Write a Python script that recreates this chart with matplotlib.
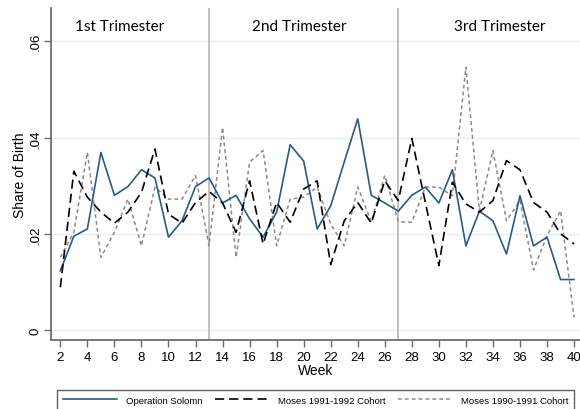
import matplotlib
matplotlib.use("Agg")
import matplotlib.pyplot as plt

weeks = list(range(2, 41))
solomon = [0.0123, 0.0195, 0.0210, 0.0369, 0.0280, 0.0298, 0.0333, 0.0316, 0.0193, 0.0227,
           0.0298, 0.0316, 0.0264, 0.0280, 0.0231, 0.0193, 0.0245, 0.0385, 0.0351, 0.0210,
           0.0258, 0.0349, 0.0439, 0.0280, 0.0264, 0.0247, 0.0280, 0.0297, 0.0264, 0.0333,
           0.0175, 0.0247, 0.0227, 0.0158, 0.0279, 0.0175, 0.0193, 0.0105, 0.0105]
moses_9192 = [0.0089, 0.0330, 0.0276, 0.0245, 0.0222, 0.0245, 0.0286, 0.0376, 0.0241, 0.0222,
              0.0265, 0.0288, 0.0264, 0.0203, 0.0310, 0.0179, 0.0265, 0.0224, 0.0293, 0.0310,
              0.0136, 0.0227, 0.0265, 0.0222, 0.0310, 0.0269, 0.0398, 0.0265, 0.0134, 0.0307,
              0.0262, 0.0245, 0.0269, 0.0352, 0.0333, 0.0265, 0.0245, 0.0200, 0.0179]
moses_9091 = [0.0151, 0.0203, 0.0369, 0.0151, 0.0203, 0.0272, 0.0175, 0.0297, 0.0272, 0.0272,
              0.0321, 0.0175, 0.0421, 0.0151, 0.0349, 0.0373, 0.0175, 0.0272, 0.0276, 0.0297,
              0.0220, 0.0175, 0.0297, 0.0225, 0.0321, 0.0225, 0.0224, 0.0297, 0.0297, 0.0279,
              0.0546, 0.0248, 0.0373, 0.0227, 0.0269, 0.0125, 0.0196, 0.0248, 0.0026]
series_labels = ["Operation Solomn", "Moses 1991-1992 Cohort", "Moses 1990-1991 Cohort"]
trimester_labels = ["1st Trimester", "2nd Trimester", "3rd Trimester"]
trimester_breaks = [13, 27]
yticks = [0, 0.02, 0.04, 0.06]
ytick_labels = ["0", ".02", ".04", ".06"]
xticks = list(range(2, 41, 2))

plt.rcParams['font.family'] = ['Liberation Sans', 'DejaVu Sans']

fig = plt.figure(figsize=(5.8, 4.1), dpi=100)
ax = fig.add_axes([51/580, 1 - 340.7/410, 1 - 51/580, (340.7 - 9)/410])

ax.set_xlim(1.31, 40.44)
ax.set_ylim(-0.0020, 0.0669)

for yv in yticks:
    ax.axhline(yv, color='#e6eff0', lw=1.0, zorder=0)
for xb in trimester_breaks:
    ax.axvline(xb, color='#bdbdbd', lw=1.3, zorder=1)

l1, = ax.plot(weeks, solomon, color='#2b5a85', lw=1.2, zorder=3)
l2, = ax.plot(weeks, moses_9192, color='black', lw=1.2, dashes=(5.5, 3), zorder=4)
l3, = ax.plot(weeks, moses_9091, color='#8a8a8a', lw=1.1, dashes=(2.5, 2), zorder=2)

tx = [6.42, 19.64, 34.5]
for x, t in zip(tx, trimester_labels):
    ax.text(x, 0.0632, t, ha='center', va='center', fontsize=11,
            family=['Lato', 'DejaVu Sans'], color='black')

ax.set_yticks(yticks)
ax.set_yticklabels(ytick_labels, rotation=90, va='center')
ax.set_xticks(xticks)
for s in ['top', 'right']:
    ax.spines[s].set_visible(False)
for s in ['left', 'bottom']:
    ax.spines[s].set_color('#6e6e6e')
    ax.spines[s].set_linewidth(1.3)
ax.tick_params(axis='both', colors='#6e6e6e', length=5, width=1.0, labelcolor='black',
               labelsize=9.5)
ax.tick_params(axis='x', pad=3)
ax.tick_params(axis='y', pad=1.5)
ax.set_xlabel("Week", fontsize=10, labelpad=0)
ax.set_ylabel("Share of Birth", fontsize=10, labelpad=2)

leg = fig.legend([l1, l2, l3], series_labels, loc='upper left',
                 bbox_to_anchor=(57/580, 1 - 391/410), ncol=3, fontsize=6.8,
                 handlelength=5.8, handletextpad=0.9, columnspacing=1.3,
                 frameon=True, fancybox=False, borderaxespad=0, borderpad=0.6)
leg.get_frame().set_edgecolor('#3a3a3a')
leg.get_frame().set_linewidth(1.0)

fig.savefig("out.png", dpi=100)
